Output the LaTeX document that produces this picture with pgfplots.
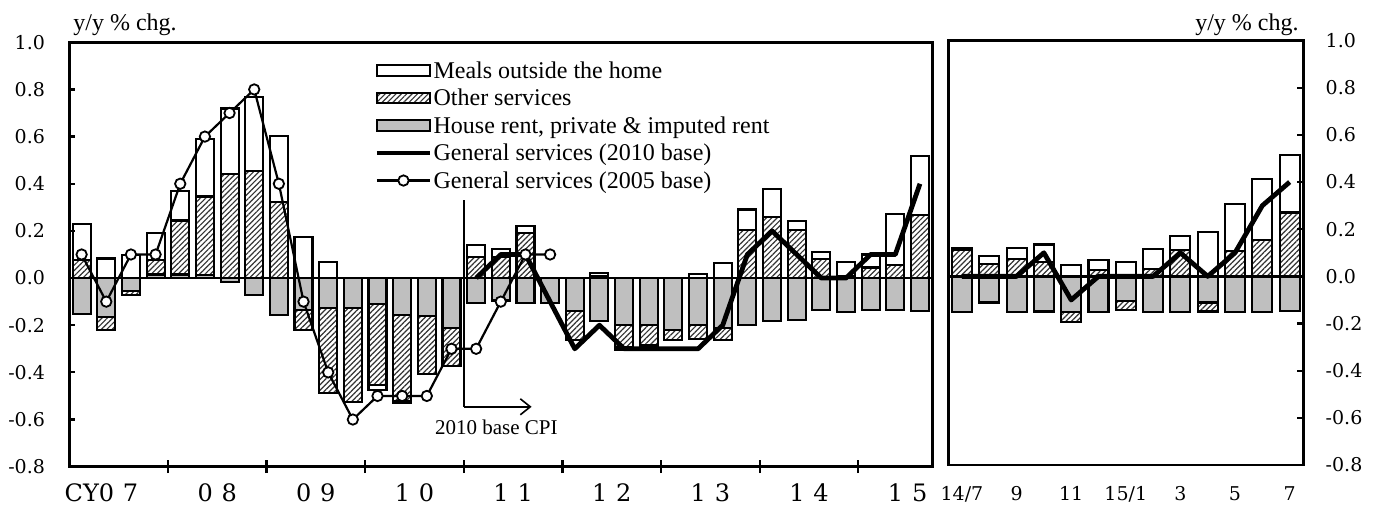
\documentclass[border=0pt]{standalone}
\usepackage{fontspec}
\setmainfont{Liberation Serif}
\newfontfamily\numfont{DejaVu Serif}
\usepackage{pgfplots}
\usepackage{pgfplotstable}
\pgfplotsset{compat=1.18}
\usetikzlibrary{patterns,patterns.meta,arrows.meta}

% quarterly contributions, CY2007Q1 .. 2015Q3
\pgfplotstableread{
i rent other meals
0 -0.154 0.076 0.152
1 -0.165 -0.057 0.083
2 -0.055 -0.015 0.098
3 0.015 0.060 0.116
4 0.015 0.229 0.125
5 0.012 0.334 0.244
6 -0.015 0.440 0.279
7 -0.070 0.454 0.315
8 -0.155 0.322 0.279
9 -0.137 -0.085 0.173
10 -0.127 -0.361 0.070
11 -0.127 -0.399 0.000
12 -0.109 -0.346 -0.021
13 -0.158 -0.362 -0.010
14 -0.161 -0.245 0.000
15 -0.212 -0.161 0.000
16 -0.105 0.088 0.052
17 -0.095 0.088 0.035
18 -0.106 0.191 0.029
19 -0.106 0.000 0.000
20 -0.141 -0.123 0.000
21 -0.184 0.010 0.010
22 -0.200 -0.093 -0.010
23 -0.200 -0.086 0.000
24 -0.222 -0.040 0.000
25 -0.200 -0.057 0.016
26 -0.212 -0.052 0.065
27 -0.200 0.204 0.087
28 -0.184 0.258 0.118
29 -0.177 0.204 0.037
30 -0.137 0.081 0.028
31 -0.144 0.010 0.058
32 -0.134 0.045 0.055
33 -0.137 0.055 0.217
34 -0.141 0.268 0.248
}\qtab

% monthly contributions, 14/7 .. 15/7
\pgfplotstableread{
j rent other meals
0 -0.153 0.110 0.012
1 -0.111 0.054 0.031
2 -0.153 0.075 0.047
3 -0.149 0.061 0.074
4 -0.153 -0.042 0.050
5 -0.153 0.028 0.043
6 -0.104 -0.039 0.061
7 -0.153 0.033 0.082
8 -0.153 0.113 0.058
9 -0.111 -0.038 0.188
10 -0.153 0.108 0.198
11 -0.153 0.156 0.256
12 -0.146 0.271 0.243
}\mtab

\pgfplotsset{
  panelL/.style={at={(34.65pt,19.65pt)}, anchor=south west, scale only axis,
    width=431.5pt, height=212.2pt, xmin=-0.5, xmax=34.5, ymin=-0.8, ymax=1},
  panelR/.style={at={(474.15pt,20.5pt)}, anchor=south west, scale only axis,
    width=177.5pt, height=212.2pt, xmin=-0.5, xmax=12.5, ymin=-0.8, ymax=1},
  rentbar/.style={fill=black!25, draw=black, line width=1.05pt},
  otherbar/.style={pattern={Lines[angle=45, distance=1.9pt, line width=0.6pt]},
    pattern color=black!80, draw=black, line width=1.05pt},
  mealbar/.style={fill=white, draw=black, line width=1.05pt},
  frame/.style={axis line style={line width=1.4pt}, clip=false,
    ytick={-0.8,-0.6,-0.4,-0.2,0,0.2,0.4,0.6,0.8,1.0},
    yticklabels={-0.8,-0.6,-0.4,-0.2,0.0,0.2,0.4,0.6,0.8,1.0},
    tick align=inside, major tick length=3pt,
    ytick style={line width=1.1pt, black}, xtick style={draw=none},
    yticklabel style={font=\numfont\fontsize{9.5}{11}\selectfont, inner sep=0pt}},
  barleg/.style={legend image code/.code={\draw[##1] (0pt,-2.6pt) rectangle (26.5pt,2.6pt);}},
  lineleg/.style={legend image code/.code={\draw[mark repeat=2,mark phase=2,##1]
      plot coordinates {(0pt,0pt) (13.25pt,0pt) (26.5pt,0pt)};}},
}

\begin{document}
\begin{tikzpicture}[font=\fontsize{12}{13.5}\selectfont]
\useasboundingbox (0,0) rectangle (689pt,253pt);

% ---- left panel: negative and positive stacks
\begin{axis}[panelL, hide axis, ybar stacked, bar width=9pt]
  \addplot[rentbar] table[x=i, y expr={min(\thisrow{rent},0)}] {\qtab};
  \addplot[otherbar] table[x=i, y expr={min(\thisrow{other},0)}] {\qtab};
  \addplot[mealbar] table[x=i, y expr={min(\thisrow{meals},0)}] {\qtab};
\end{axis}
\begin{axis}[panelL, hide axis, ybar stacked, bar width=9pt]
  \addplot[rentbar] table[x=i, y expr={max(\thisrow{rent},0)}] {\qtab};
  \addplot[otherbar] table[x=i, y expr={max(\thisrow{other},0)}] {\qtab};
  \addplot[mealbar] table[x=i, y expr={max(\thisrow{meals},0)}] {\qtab};
\end{axis}

% ---- left panel: frame, lines, legend
\begin{axis}[panelL, frame, ytick pos=left,
  yticklabel style={anchor=east, xshift=-12pt},
  xtick={1.5,5.5,9.5,13.5,17.5,21.5,25.5,29.5,33.5},
  xticklabels={\llap{CY}0\hspace{4.4pt}7, 0\hspace{4.4pt}8, 0\hspace{4.4pt}9,
    1\hspace{4.4pt}0, 1\hspace{4.4pt}1, 1\hspace{4.4pt}2, 1\hspace{4.4pt}3,
    1\hspace{4.4pt}4, 1\hspace{4.4pt}5},
  xticklabel style={font=\numfont\fontsize{12}{14}\selectfont, anchor=base, inner sep=0pt, yshift=-17.6pt},
  legend cell align=left,
  legend style={at={(rel axis cs:0.3533,0.963)}, anchor=north west, draw=none, fill=none,
    inner sep=0pt, row sep=1.6pt, column sep=0pt, nodes={inner sep=0.6pt}},
]
  \addlegendimage{barleg, mealbar}
  \addlegendentry{\strut Meals outside the home}
  \addlegendimage{barleg, otherbar}
  \addlegendentry{\strut Other services}
  \addlegendimage{barleg, rentbar}
  \addlegendentry{\strut House rent, private \& imputed rent}
  \addlegendimage{lineleg, black, line width=2.4pt}
  \addlegendentry{\strut General services (2010 base)}
  \addlegendimage{lineleg, black, line width=1.1pt, mark=*, mark size=2.6pt,
    mark options={fill=white, line width=0.9pt}}
  \addlegendentry{\strut General services (2005 base)}

  \draw[line width=1.3pt] (axis cs:-0.5,0) -- (axis cs:34.5,0);
  \pgfplotsinvokeforeach{3.5,7.5,11.5,15.5,19.5,23.5,27.5,31.5}{
    \draw[line width=1.1pt] ([yshift=-3.2pt]axis cs:#1,-0.8) -- ([yshift=3.2pt]axis cs:#1,-0.8);
  }

  % general services, 2010 base
  \addplot[forget plot, black, line width=2.4pt, line join=round] coordinates {
    (16,0.0)(17,0.1)(18,0.1)(19,-0.1)(20,-0.3)(21,-0.2)(22,-0.3)(23,-0.3)(24,-0.3)
    (25,-0.3)(26,-0.2)(27,0.1)(28,0.2)(29,0.1)(30,0.0)(31,0.0)(32,0.1)(33,0.1)(34,0.4)};
  % general services, 2005 base
  \addplot[forget plot, black, line width=1.1pt, mark=*, mark size=2.6pt,
    mark options={fill=white, line width=0.9pt}] coordinates {
    (0,0.1)(1,-0.1)(2,0.1)(3,0.1)(4,0.4)(5,0.6)(6,0.7)(7,0.8)(8,0.4)(9,-0.1)
    (10,-0.4)(11,-0.6)(12,-0.5)(13,-0.5)(14,-0.5)(15,-0.3)(16,-0.3)(17,-0.1)(18,0.1)(19,0.1)};

  \draw[line width=0.8pt] (axis cs:15.5,0.331) -- (axis cs:15.5,-0.546);
  \draw[line width=0.8pt, -{Straight Barb[length=5pt,width=8pt]}]
    (axis cs:15.5,-0.546) -- (axis cs:18.25,-0.546);
  \node[font=\fontsize{10.5}{12}\selectfont] at (axis cs:16.82,-0.635) {2010 base CPI};
\end{axis}

% ---- right panel: negative and positive stacks
\begin{axis}[panelR, hide axis, ybar stacked, bar width=10pt]
  \addplot[rentbar] table[x=j, y expr={min(\thisrow{rent},0)}] {\mtab};
  \addplot[otherbar] table[x=j, y expr={min(\thisrow{other},0)}] {\mtab};
  \addplot[mealbar] table[x=j, y expr={min(\thisrow{meals},0)}] {\mtab};
\end{axis}
\begin{axis}[panelR, hide axis, ybar stacked, bar width=10pt]
  \addplot[rentbar] table[x=j, y expr={max(\thisrow{rent},0)}] {\mtab};
  \addplot[otherbar] table[x=j, y expr={max(\thisrow{other},0)}] {\mtab};
  \addplot[mealbar] table[x=j, y expr={max(\thisrow{meals},0)}] {\mtab};
\end{axis}

% ---- right panel: frame and line
\begin{axis}[panelR, frame, ytick pos=right, yticklabel pos=right,
  yticklabel style={anchor=west, xshift=11pt},
  xtick={0,2,4,6,8,10,12},
  xticklabels={14/7,9,11,15/1,3,5,7},
  xticklabel style={font=\numfont\fontsize{9.5}{11}\selectfont, anchor=base, inner sep=0pt, yshift=-17.6pt},
]
  \draw[line width=1.3pt] (axis cs:-0.5,0) -- (axis cs:12.5,0);
  \addplot[black, line width=2.4pt, line join=round] coordinates {
    (0,0.0)(1,0.0)(2,0.0)(3,0.1)(4,-0.1)(5,0.0)(6,0.0)(7,0.0)(8,0.1)(9,0.0)
    (10,0.1)(11,0.3)(12,0.4)};
\end{axis}

\node[anchor=base west, inner sep=0pt] at (36.5pt,237.5pt) {y/y \% chg.};
\node[anchor=base east, inner sep=0pt] at (649.5pt,237.5pt) {y/y \% chg.};
\end{tikzpicture}
\end{document}
